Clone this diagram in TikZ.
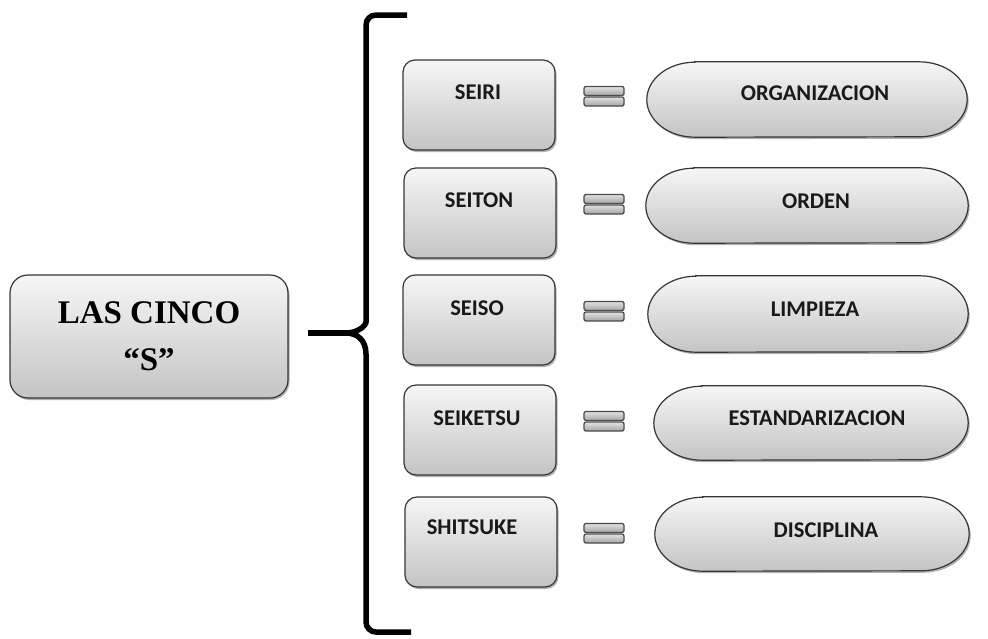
\documentclass[tikz,border=0pt]{standalone}
\usepackage{fontspec}
\setmainfont{Liberation Serif}
\newfontfamily\termfont{Carlito}
\usetikzlibrary{shadows,calc}

\definecolor{boxtop}{HTML}{F6F6F6}
\definecolor{boxbot}{HTML}{C4C4C4}
\definecolor{edge}{HTML}{363636}
\definecolor{bartop}{HTML}{E2E2E2}
\definecolor{barbot}{HTML}{A4A4A4}

\tikzset{
  softshadow/.style={drop shadow={shadow xshift=1.5pt, shadow yshift=-2pt, opacity=0.3, fill=black}},
  greyfill/.style={top color=boxtop, bottom color=boxbot, draw=edge, line width=1.2pt, softshadow},
  titlebox/.style={greyfill, rectangle, rounded corners=18pt, minimum width=278pt,
    minimum height=123pt, inner sep=0pt, align=center,
    font=\bfseries\fontsize{33}{47}\selectfont},
  termbox/.style={greyfill, rectangle, rounded corners=12pt, minimum width=152pt,
    minimum height=90pt, inner sep=0pt},
  termtext/.style={font=\termfont\bfseries\fontsize{22.5}{27}\selectfont, text=black!90, inner sep=0pt},
  stadiumframe/.style={rectangle, inner sep=0pt, minimum height=75pt},
  bar/.style={rectangle, rounded corners=2pt, minimum width=40pt, minimum height=9pt,
    inner sep=0pt, top color=bartop, bottom color=barbot, draw=black!70, line width=1.3pt},
  bracestroke/.style={line width=5.5pt, black},
}

% elliptic-ended pill drawn round the border of a node
\newcommand\stadiumpath[3]{%
  \path[greyfill] ($(#1.north west)+(#2,0)$) -- ($(#1.north east)+(-#2,0)$)
    arc[start angle=90, end angle=-90, x radius=#2, y radius=#3]
    -- ($(#1.south west)+(#2,0)$)
    arc[start angle=270, end angle=90, x radius=#2, y radius=#3] -- cycle;}

\begin{document}
\begin{tikzpicture}[x=1pt, y=-1pt]
\useasboundingbox (0,0) rectangle (988,638);

% title block
\node[titlebox] (main) at (149,336.5) {LAS CINCO\\“S”};

% brace
\coordinate (tip) at (346,333);
\draw[bracestroke] ([xshift=19pt,yshift=3.5pt]main.east) -- (tip);
\draw[bracestroke] (407,15) [rounded corners=10pt] -- (366,15) -- (366,312) [sharp corners]
  .. controls (366,326) and (357,333) .. (tip)
  .. controls (357,333) and (366,340) .. (366,354)
  [rounded corners=10pt] -- (366,632) -- (411,632);

% Japanese terms
\node[termbox] (b1) at (479,105) {};
\node[termbox] (b2) at (480,213) {};
\node[termbox] (b3) at (479,320) {};
\node[termbox] (b4) at (480,430) {};
\node[termbox] (b5) at (481,542) {};
\node[termtext] (n1) at (478,92) {SEIRI};
\node[termtext] (n2) at (479,200) {SEITON};
\node[termtext] (n3) at (477,308) {SEISO};
\node[termtext] (n4) at (477,418) {SEIKETSU};
\node[termtext] (n5) at (472,527) {SHITSUKE};

% equals signs
\foreach \i/\y in {1/96, 2/204, 3/311, 4/421, 5/533} {
  \node[bar] (e\i a) at (604,\y-5) {};
  \node[bar] (e\i b) at (604,\y+5.5) {};
}

% meanings
\node[stadiumframe, minimum width=320pt] (s1) at (807,99.5) {};
\node[stadiumframe, minimum width=322pt] (s2) at (807,205.5) {};
\node[stadiumframe, minimum width=320pt, minimum height=76pt] (s3) at (808,314) {};
\node[stadiumframe, minimum width=314pt, minimum height=74pt] (s4) at (811,423) {};
\node[stadiumframe, minimum width=314pt, minimum height=74pt] (s5) at (812,534) {};
\stadiumpath{s1}{48pt}{37.5pt}
\stadiumpath{s2}{48pt}{37.5pt}
\stadiumpath{s3}{48pt}{38pt}
\stadiumpath{s4}{48pt}{37pt}
\stadiumpath{s5}{48pt}{37pt}
\node[termtext] (m1) at (815,93) {ORGANIZACION};
\node[termtext] (m2) at (816,201) {ORDEN};
\node[termtext] (m3) at (815,309) {LIMPIEZA};
\node[termtext] (m4) at (817,418) {ESTANDARIZACION};
\node[termtext] (m5) at (826,530) {DISCIPLINA};
\end{tikzpicture}
\end{document}
